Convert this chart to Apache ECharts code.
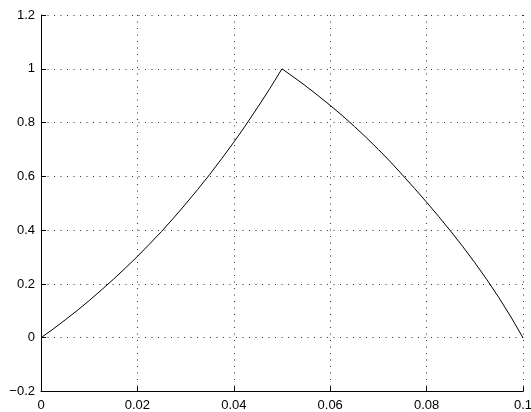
<!DOCTYPE html>
<html>
<head>
<meta charset="utf-8">
<script src="https://cdn.jsdelivr.net/npm/echarts@6/dist/echarts.min.js"></script>
<style>html,body{margin:0;padding:0;background:#fff}#c{width:531px;height:412px}</style>
</head>
<body>
<div id="c"></div>
<script>
var xValues = [0, 0.0025, 0.005, 0.0075, 0.01, 0.0125, 0.015, 0.0175, 0.02, 0.0225, 0.025, 0.0275, 0.03, 0.0325, 0.035, 0.0375, 0.04, 0.0425, 0.045, 0.0475, 0.05,
  0.0525, 0.055, 0.0575, 0.06, 0.0625, 0.065, 0.0675, 0.07, 0.0725, 0.075, 0.0775, 0.08, 0.0825, 0.085, 0.0875, 0.09, 0.0925, 0.095, 0.0975, 0.1];
var yValues = [0, 0.032, 0.066, 0.101, 0.138, 0.177, 0.217, 0.259, 0.302, 0.348, 0.395, 0.445, 0.497, 0.551, 0.607, 0.666, 0.727, 0.791, 0.858, 0.927, 1,
  0.968, 0.935, 0.900, 0.864, 0.826, 0.786, 0.744, 0.700, 0.654, 0.605, 0.555, 0.504, 0.451, 0.396, 0.339, 0.279, 0.216, 0.149, 0.077, 0];
var xTicks = [0, 0.02, 0.04, 0.06, 0.08, 0.1];
var yTicks = [-0.2, 0, 0.2, 0.4, 0.6, 0.8, 1, 1.2];

var pts = xValues.map(function (x, i) { return [x, yValues[i]]; });
var font = '"Liberation Sans", Arial, Helvetica, sans-serif';
var gridLine = { show: true, lineStyle: { color: '#333', width: 1, type: [1, 5.5] } };
function fmt(v) { return String(+v.toFixed(4)).replace('-', '\u2212'); }

var chart = echarts.init(document.getElementById('c'), null, { renderer: 'canvas' });
chart.setOption({
  animation: false,
  backgroundColor: '#fff',
  grid: { left: 41, right: 8, top: 15, bottom: 20.5, containLabel: false, outerBoundsMode: 'none' },
  xAxis: {
    type: 'value', min: xTicks[0], max: xTicks[xTicks.length - 1], interval: 0.02,
    axisLine: { show: true, onZero: false, lineStyle: { color: '#000', width: 1 } },
    axisTick: { show: true, inside: true, length: 5, lineStyle: { color: '#000' } },
    axisLabel: { color: '#000', fontSize: 13, fontFamily: font, margin: 7, formatter: fmt, showMaxLabel: true, showMinLabel: true, hideOverlap: false },
    splitLine: gridLine
  },
  yAxis: {
    type: 'value', min: yTicks[0], max: yTicks[yTicks.length - 1], interval: 0.2,
    axisLine: { show: true, onZero: false, lineStyle: { color: '#000', width: 1 } },
    axisTick: { show: true, inside: true, length: 5, lineStyle: { color: '#000' } },
    axisLabel: { color: '#000', fontSize: 13, fontFamily: font, margin: 6, formatter: fmt },
    splitLine: gridLine
  },
  series: [{
    type: 'line', data: pts, showSymbol: false, smooth: false,
    lineStyle: { color: '#000', width: 1 }, itemStyle: { color: '#000' }
  }]
});
</script>
</body>
</html>
